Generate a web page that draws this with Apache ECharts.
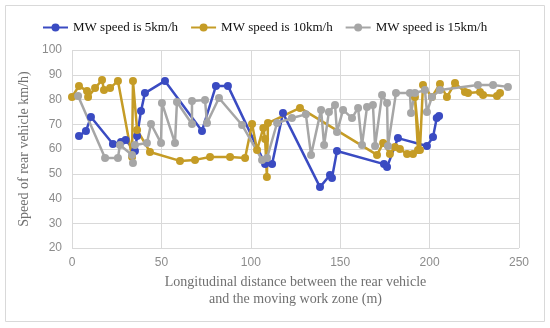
<!DOCTYPE html>
<html><head><meta charset="utf-8">
<script src="https://cdn.jsdelivr.net/npm/echarts@6/dist/echarts.min.js"></script>
<style>html,body{margin:0;padding:0;background:#fff}#c{width:550px;height:328px}</style>
</head><body><div id="c"></div>
<script>
const seriesNames = ['MW speed is 5km/h','MW speed is 10km/h','MW speed is 15km/h'];
const xTicks = [0,50,100,150,200,250];
const yTicks = [20,30,40,50,60,70,80,90,100];
const blueX = [3.9,7.8,10.6,22.9,27.4,30,35.2,36.4,38.6,40.8,52,72.7,80.5,87.2,108,111.9,118,138.7,144.3,145.4,148.2,174.5,176.2,182.3,198.5,201.9,204,205.3];
const blueY = [65.3,67.3,72.9,62,62.8,63.6,59.2,65.3,75.4,82.6,87.5,67.3,85.5,85.5,53.9,53.9,74.5,44.6,49.5,48.3,59.2,53.9,52.7,64.4,61.2,64.8,72.5,73.3];
const goldX = [0,3.9,8.4,9,12.9,16.8,17.9,21.3,25.7,33.6,34.1,36.4,43.6,60.4,68.8,77.2,88.4,96.8,100.7,103.5,107,108,109,109.6,127.5,170.6,174,177.8,180.6,183.4,187.4,190.7,193.5,191.8,194.6,196.3,201.3,205.8,209.7,214.2,219.8,221.5,228.2,229.9,237.7,239.4];
const goldY = [81,85.5,83.4,81,84.6,87.9,83.8,84.6,87.5,56.8,87.5,67.7,58.8,55.2,55.6,56.8,56.8,56.4,70.1,59.6,68.5,64,48.7,70.5,76.6,57.6,62.4,58,60.8,60,58,58,59.6,81,59.6,85.9,81,86.3,81,86.7,83,82.6,83,81.8,81.4,82.6];
const grayX = [3.4,18.5,25.7,26.8,33.6,34.1,35.2,41.9,44.2,49.8,50.3,57.6,58.7,67.1,67.1,74.4,75.5,82.2,95.1,106.3,109.1,114.7,123,130.8,133.7,139.3,141,143.7,147.1,148.2,151.6,156.6,160,162.2,165,168.3,169.5,173.4,176.2,176.7,181.2,189,189.6,191.8,197.4,198.5,201.3,205.8,227,235.5,243.8];
const grayY = [81.4,56.4,56.4,61.6,57.6,54.3,61.6,62.4,70.1,62.4,78.6,62.4,79,70.1,79.4,79.8,70.5,80.6,69.7,55.6,56.4,70.5,72.5,74,57.6,75.8,61.6,75,77.8,66.9,75.8,72.5,76.6,61.6,77,77.8,61.2,81.8,78.6,61.2,82.6,82.6,74.5,82.6,83.8,74.9,81,83.8,85.9,85.9,85.1];

const colors = ['#3A4BC2','#C59C26','#A6A6A6'];
const pair = (xs, ys) => xs.map((x,i)=>[x, ys[i]]);
const data = [pair(blueX,blueY), pair(goldX,goldY), pair(grayX,grayY)];

const chart = echarts.init(document.getElementById('c'), null, {renderer:'canvas'});
chart.setOption({
  animation:false,
  color: colors,
  legend:{
    top:16, left:37, itemWidth:25, itemHeight:10, itemGap:12,
    textStyle:{fontFamily:'Liberation Serif', fontSize:13, color:'#111'},
    data: seriesNames
  },
  grid:{left:72, right:31, top:50, bottom:80},
  xAxis:{
    type:'value', min:xTicks[0], max:xTicks[xTicks.length-1], interval:50,
    axisLine:{show:false}, axisTick:{show:false},
    axisLabel:{color:'#8c8c8c', fontFamily:'Liberation Sans', fontSize:12, margin:9},
    splitLine:{show:true, lineStyle:{color:'#d9d9d9', width:1}},
    name:'Longitudinal distance between the rear vehicle\nand the moving work zone (m)',
    nameLocation:'middle', nameGap:26,
    nameTextStyle:{fontFamily:'Liberation Serif', fontSize:14, color:'#707070', lineHeight:17}
  },
  yAxis:{
    type:'value', min:yTicks[0], max:yTicks[yTicks.length-1], interval:10,
    axisLine:{show:false}, axisTick:{show:false},
    axisLabel:{color:'#8c8c8c', fontFamily:'Liberation Sans', fontSize:12, margin:10},
    splitLine:{show:true, lineStyle:{color:'#d9d9d9', width:1}},
    name:'Speed of rear vehicle km/h)', nameLocation:'middle', nameGap:33,
    nameTextStyle:{fontFamily:'Liberation Serif', fontSize:14, color:'#707070'}
  },
  graphic:[{type:'rect', shape:{x:5.5,y:5.5,width:539,height:316}, style:{fill:'none', stroke:'#d9d9d9', lineWidth:1}, silent:true, z:-1}],
  series: data.map((d,i)=>({
    name: seriesNames[i], type:'line', data:d,
    symbol:'circle', symbolSize:8, showSymbol:true,
    lineStyle:{width:2.5, color:colors[i]},
    itemStyle:{color:colors[i]}
  }))
});
</script></body></html>
